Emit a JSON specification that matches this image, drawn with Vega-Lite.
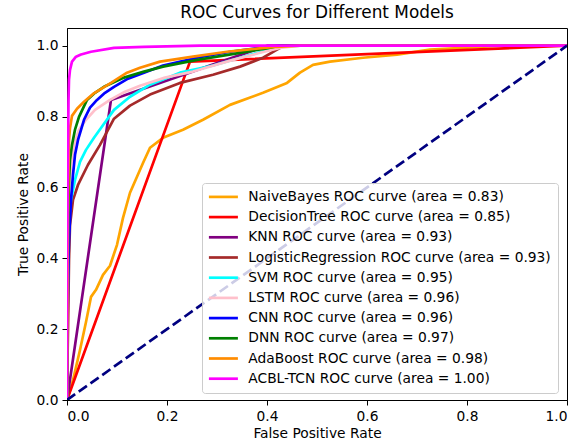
{
  "$schema": "https://vega.github.io/schema/vega-lite/v6.json",
  "width": 500,
  "height": 372,
  "autosize": {"type": "none"},
  "padding": {"left": 67, "top": 28, "right": 20, "bottom": 46},
  "background": "white",
  "title": {"text": "ROC Curves for Different Models", "fontSize": 16.9, "font": "DejaVu Sans", "fontWeight": "normal", "color": "#000", "offset": 6},
  "config": {
    "view": {"stroke": "#000", "strokeWidth": 1},
    "axis": {"grid": false, "domainColor": "#000", "tickColor": "#000", "labelColor": "#000", "titleColor": "#000", "labelFont": "DejaVu Sans", "titleFont": "DejaVu Sans", "labelFontSize": 13.8, "titleFontSize": 13.8, "titleFontWeight": "normal", "tickSize": 5, "labelPadding": 4, "domainWidth": 1}
  },
  "datasets": {
    "models": [
      {"m": "NaiveBayes", "label": "NaiveBayes ROC curve (area = 0.83)"},
      {"m": "DecisionTree", "label": "DecisionTree ROC curve (area = 0.85)"},
      {"m": "KNN", "label": "KNN ROC curve (area = 0.93)"},
      {"m": "LogisticRegression", "label": "LogisticRegression ROC curve (area = 0.93)"},
      {"m": "SVM", "label": "SVM ROC curve (area = 0.95)"},
      {"m": "LSTM", "label": "LSTM ROC curve (area = 0.96)"},
      {"m": "CNN", "label": "CNN ROC curve (area = 0.96)"},
      {"m": "DNN", "label": "DNN ROC curve (area = 0.97)"},
      {"m": "AdaBoost", "label": "AdaBoost ROC curve (area = 0.98)"},
      {"m": "ACBL-TCN", "label": "ACBL-TCN ROC curve (area = 1.00)"}
    ],
    "roc": [
      {"m": "NaiveBayes", "x": 0, "y": 0},
      {"m": "NaiveBayes", "x": 0.012, "y": 0.056},
      {"m": "NaiveBayes", "x": 0.026, "y": 0.141},
      {"m": "NaiveBayes", "x": 0.038, "y": 0.22},
      {"m": "NaiveBayes", "x": 0.048, "y": 0.291},
      {"m": "NaiveBayes", "x": 0.058, "y": 0.311},
      {"m": "NaiveBayes", "x": 0.072, "y": 0.353},
      {"m": "NaiveBayes", "x": 0.086, "y": 0.379},
      {"m": "NaiveBayes", "x": 0.1, "y": 0.438},
      {"m": "NaiveBayes", "x": 0.112, "y": 0.514},
      {"m": "NaiveBayes", "x": 0.126, "y": 0.585},
      {"m": "NaiveBayes", "x": 0.14, "y": 0.63},
      {"m": "NaiveBayes", "x": 0.152, "y": 0.669},
      {"m": "NaiveBayes", "x": 0.166, "y": 0.712},
      {"m": "NaiveBayes", "x": 0.192, "y": 0.74},
      {"m": "NaiveBayes", "x": 0.232, "y": 0.763},
      {"m": "NaiveBayes", "x": 0.272, "y": 0.791},
      {"m": "NaiveBayes", "x": 0.326, "y": 0.833},
      {"m": "NaiveBayes", "x": 0.392, "y": 0.867},
      {"m": "NaiveBayes", "x": 0.44, "y": 0.895},
      {"m": "NaiveBayes", "x": 0.466, "y": 0.924},
      {"m": "NaiveBayes", "x": 0.492, "y": 0.946},
      {"m": "NaiveBayes", "x": 0.526, "y": 0.955},
      {"m": "NaiveBayes", "x": 0.592, "y": 0.966},
      {"m": "NaiveBayes", "x": 0.66, "y": 0.975},
      {"m": "NaiveBayes", "x": 0.726, "y": 0.989},
      {"m": "NaiveBayes", "x": 0.792, "y": 0.994},
      {"m": "NaiveBayes", "x": 0.866, "y": 1},
      {"m": "NaiveBayes", "x": 1, "y": 1},

      {"m": "DecisionTree", "x": 0, "y": 0},
      {"m": "DecisionTree", "x": 0.246, "y": 0.955},
      {"m": "DecisionTree", "x": 1, "y": 1},

      {"m": "KNN", "x": 0, "y": 0},
      {"m": "KNN", "x": 0.088, "y": 0.847},
      {"m": "KNN", "x": 0.4, "y": 1},
      {"m": "KNN", "x": 1, "y": 1},

      {"m": "LogisticRegression", "x": 0, "y": 0},
      {"m": "LogisticRegression", "x": 0.001, "y": 0.113},
      {"m": "LogisticRegression", "x": 0.002, "y": 0.198},
      {"m": "LogisticRegression", "x": 0.004, "y": 0.395},
      {"m": "LogisticRegression", "x": 0.006, "y": 0.494},
      {"m": "LogisticRegression", "x": 0.012, "y": 0.565},
      {"m": "LogisticRegression", "x": 0.022, "y": 0.607},
      {"m": "LogisticRegression", "x": 0.042, "y": 0.664},
      {"m": "LogisticRegression", "x": 0.066, "y": 0.72},
      {"m": "LogisticRegression", "x": 0.094, "y": 0.794},
      {"m": "LogisticRegression", "x": 0.126, "y": 0.831},
      {"m": "LogisticRegression", "x": 0.166, "y": 0.862},
      {"m": "LogisticRegression", "x": 0.226, "y": 0.895},
      {"m": "LogisticRegression", "x": 0.292, "y": 0.918},
      {"m": "LogisticRegression", "x": 0.346, "y": 0.941},
      {"m": "LogisticRegression", "x": 0.392, "y": 0.966},
      {"m": "LogisticRegression", "x": 0.42, "y": 0.989},
      {"m": "LogisticRegression", "x": 0.434, "y": 1},
      {"m": "LogisticRegression", "x": 1, "y": 1},

      {"m": "SVM", "x": 0, "y": 0},
      {"m": "SVM", "x": 0.001, "y": 0.198},
      {"m": "SVM", "x": 0.002, "y": 0.395},
      {"m": "SVM", "x": 0.004, "y": 0.508},
      {"m": "SVM", "x": 0.008, "y": 0.565},
      {"m": "SVM", "x": 0.016, "y": 0.621},
      {"m": "SVM", "x": 0.026, "y": 0.672},
      {"m": "SVM", "x": 0.038, "y": 0.706},
      {"m": "SVM", "x": 0.054, "y": 0.74},
      {"m": "SVM", "x": 0.074, "y": 0.78},
      {"m": "SVM", "x": 0.094, "y": 0.819},
      {"m": "SVM", "x": 0.126, "y": 0.856},
      {"m": "SVM", "x": 0.166, "y": 0.89},
      {"m": "SVM", "x": 0.226, "y": 0.924},
      {"m": "SVM", "x": 0.292, "y": 0.944},
      {"m": "SVM", "x": 0.346, "y": 0.966},
      {"m": "SVM", "x": 0.396, "y": 0.986},
      {"m": "SVM", "x": 0.43, "y": 0.997},
      {"m": "SVM", "x": 0.466, "y": 1},
      {"m": "SVM", "x": 1, "y": 1},

      {"m": "LSTM", "x": 0, "y": 0},
      {"m": "LSTM", "x": 0.001, "y": 0.282},
      {"m": "LSTM", "x": 0.002, "y": 0.48},
      {"m": "LSTM", "x": 0.004, "y": 0.593},
      {"m": "LSTM", "x": 0.008, "y": 0.664},
      {"m": "LSTM", "x": 0.014, "y": 0.72},
      {"m": "LSTM", "x": 0.024, "y": 0.763},
      {"m": "LSTM", "x": 0.038, "y": 0.791},
      {"m": "LSTM", "x": 0.056, "y": 0.819},
      {"m": "LSTM", "x": 0.086, "y": 0.847},
      {"m": "LSTM", "x": 0.116, "y": 0.87},
      {"m": "LSTM", "x": 0.146, "y": 0.887},
      {"m": "LSTM", "x": 0.196, "y": 0.91},
      {"m": "LSTM", "x": 0.252, "y": 0.927},
      {"m": "LSTM", "x": 0.332, "y": 0.96},
      {"m": "LSTM", "x": 0.386, "y": 0.98},
      {"m": "LSTM", "x": 0.426, "y": 0.994},
      {"m": "LSTM", "x": 0.466, "y": 1},
      {"m": "LSTM", "x": 1, "y": 1},

      {"m": "CNN", "x": 0, "y": 0},
      {"m": "CNN", "x": 0.001, "y": 0.198},
      {"m": "CNN", "x": 0.002, "y": 0.339},
      {"m": "CNN", "x": 0.004, "y": 0.452},
      {"m": "CNN", "x": 0.008, "y": 0.565},
      {"m": "CNN", "x": 0.012, "y": 0.636},
      {"m": "CNN", "x": 0.016, "y": 0.692},
      {"m": "CNN", "x": 0.022, "y": 0.734},
      {"m": "CNN", "x": 0.034, "y": 0.791},
      {"m": "CNN", "x": 0.046, "y": 0.825},
      {"m": "CNN", "x": 0.06, "y": 0.847},
      {"m": "CNN", "x": 0.076, "y": 0.867},
      {"m": "CNN", "x": 0.094, "y": 0.884},
      {"m": "CNN", "x": 0.122, "y": 0.907},
      {"m": "CNN", "x": 0.154, "y": 0.924},
      {"m": "CNN", "x": 0.192, "y": 0.944},
      {"m": "CNN", "x": 0.26, "y": 0.966},
      {"m": "CNN", "x": 0.326, "y": 0.983},
      {"m": "CNN", "x": 0.386, "y": 0.994},
      {"m": "CNN", "x": 0.426, "y": 1},
      {"m": "CNN", "x": 1, "y": 1},

      {"m": "DNN", "x": 0, "y": 0},
      {"m": "DNN", "x": 0.001, "y": 0.282},
      {"m": "DNN", "x": 0.002, "y": 0.508},
      {"m": "DNN", "x": 0.004, "y": 0.621},
      {"m": "DNN", "x": 0.006, "y": 0.678},
      {"m": "DNN", "x": 0.01, "y": 0.72},
      {"m": "DNN", "x": 0.016, "y": 0.763},
      {"m": "DNN", "x": 0.024, "y": 0.799},
      {"m": "DNN", "x": 0.04, "y": 0.847},
      {"m": "DNN", "x": 0.056, "y": 0.867},
      {"m": "DNN", "x": 0.074, "y": 0.884},
      {"m": "DNN", "x": 0.114, "y": 0.91},
      {"m": "DNN", "x": 0.154, "y": 0.927},
      {"m": "DNN", "x": 0.192, "y": 0.941},
      {"m": "DNN", "x": 0.26, "y": 0.96},
      {"m": "DNN", "x": 0.346, "y": 0.98},
      {"m": "DNN", "x": 0.396, "y": 0.992},
      {"m": "DNN", "x": 0.426, "y": 1},
      {"m": "DNN", "x": 1, "y": 1},

      {"m": "AdaBoost", "x": 0, "y": 0},
      {"m": "AdaBoost", "x": 0.001, "y": 0.282},
      {"m": "AdaBoost", "x": 0.002, "y": 0.565},
      {"m": "AdaBoost", "x": 0.004, "y": 0.734},
      {"m": "AdaBoost", "x": 0.006, "y": 0.768},
      {"m": "AdaBoost", "x": 0.01, "y": 0.802},
      {"m": "AdaBoost", "x": 0.02, "y": 0.822},
      {"m": "AdaBoost", "x": 0.034, "y": 0.842},
      {"m": "AdaBoost", "x": 0.052, "y": 0.864},
      {"m": "AdaBoost", "x": 0.088, "y": 0.895},
      {"m": "AdaBoost", "x": 0.12, "y": 0.924},
      {"m": "AdaBoost", "x": 0.146, "y": 0.938},
      {"m": "AdaBoost", "x": 0.186, "y": 0.955},
      {"m": "AdaBoost", "x": 0.252, "y": 0.969},
      {"m": "AdaBoost", "x": 0.32, "y": 0.983},
      {"m": "AdaBoost", "x": 0.36, "y": 0.989},
      {"m": "AdaBoost", "x": 0.42, "y": 0.997},
      {"m": "AdaBoost", "x": 0.466, "y": 1},
      {"m": "AdaBoost", "x": 1, "y": 1},

      {"m": "ACBL-TCN", "x": 0, "y": 0},
      {"m": "ACBL-TCN", "x": 0.0004, "y": 0.424},
      {"m": "ACBL-TCN", "x": 0.002, "y": 0.706},
      {"m": "ACBL-TCN", "x": 0.003, "y": 0.847},
      {"m": "ACBL-TCN", "x": 0.004, "y": 0.904},
      {"m": "ACBL-TCN", "x": 0.006, "y": 0.932},
      {"m": "ACBL-TCN", "x": 0.01, "y": 0.955},
      {"m": "ACBL-TCN", "x": 0.018, "y": 0.969},
      {"m": "ACBL-TCN", "x": 0.028, "y": 0.975},
      {"m": "ACBL-TCN", "x": 0.048, "y": 0.983},
      {"m": "ACBL-TCN", "x": 0.094, "y": 0.994},
      {"m": "ACBL-TCN", "x": 0.154, "y": 0.997},
      {"m": "ACBL-TCN", "x": 0.266, "y": 1},
      {"m": "ACBL-TCN", "x": 1, "y": 1}
    ],
    "diag": [
      {"x": 0, "y": 0},
      {"x": 1, "y": 1}
    ]
  },
  "layer": [
    {
      "data": {"name": "roc"},
      "transform": [
        {"lookup": "m", "from": {"data": {"name": "models"}, "key": "m", "fields": ["label"]}}
      ],
      "mark": {"type": "line", "strokeWidth": 2.7, "strokeJoin": "round", "clip": true},
      "encoding": {
        "x": {"field": "x", "type": "quantitative", "scale": {"domain": [0, 1], "nice": false, "zero": false}, "axis": {"title": "False Positive Rate", "values": [0, 0.2, 0.4, 0.6, 0.8, 1.0], "format": ".1f", "titlePadding": 4}},
        "y": {"field": "y", "type": "quantitative", "scale": {"domain": [0, 1.05], "nice": false, "zero": false}, "axis": {"title": "True Positive Rate", "values": [0, 0.2, 0.4, 0.6, 0.8, 1.0], "format": ".1f", "titlePadding": 6}},
        "color": {
          "field": "label",
          "type": "nominal",
          "scale": {
            "domain": [
              "NaiveBayes ROC curve (area = 0.83)",
              "DecisionTree ROC curve (area = 0.85)",
              "KNN ROC curve (area = 0.93)",
              "LogisticRegression ROC curve (area = 0.93)",
              "SVM ROC curve (area = 0.95)",
              "LSTM ROC curve (area = 0.96)",
              "CNN ROC curve (area = 0.96)",
              "DNN ROC curve (area = 0.97)",
              "AdaBoost ROC curve (area = 0.98)",
              "ACBL-TCN ROC curve (area = 1.00)"
            ],
            "range": ["#FFA500", "#FF0000", "#800080", "#A52A2A", "#00FFFF", "#FFC0CB", "#0000FF", "#008000", "#FF8C00", "#FF00FF"]
          },
          "legend": {
            "title": null,
            "orient": "none",
            "legendX": 135,
            "legendY": 155,
            "symbolType": "M-2.9,0H2.9",
            "symbolSize": 100,
            "symbolOffset": 7.5,
            "symbolStrokeWidth": 2.7,
            "labelFont": "DejaVu Sans",
            "labelFontSize": 13.8,
            "labelColor": "#000",
            "labelOffset": 18,
            "labelLimit": 400,
            "rowPadding": 5.2,
            "padding": 7,
            "fillColor": "rgba(255,255,255,0.8)",
            "strokeColor": "#cccccc",
            "cornerRadius": 3
          }
        }
      }
    },
    {
      "data": {"name": "diag"},
      "mark": {"type": "line", "color": "#000080", "strokeWidth": 2.7, "strokeDash": [10, 4.4], "clip": true},
      "encoding": {
        "x": {"field": "x", "type": "quantitative"},
        "y": {"field": "y", "type": "quantitative"}
      }
    }
  ]
}
